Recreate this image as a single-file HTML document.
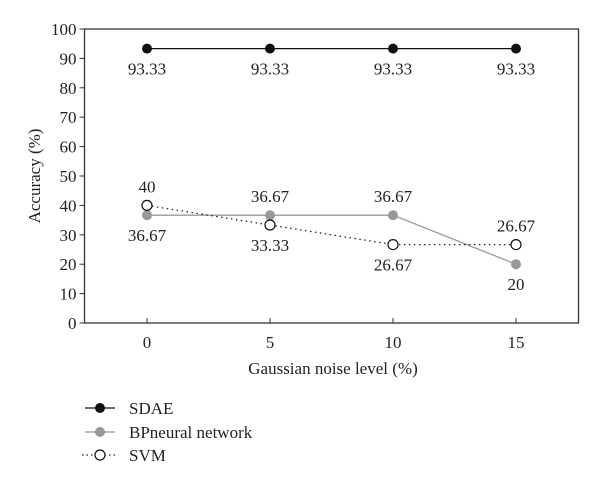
<!DOCTYPE html>
<html><head><meta charset="utf-8"><style>
body{margin:0;background:#fff}
svg text{font-family:"Liberation Serif",serif;fill:#222}
</style></head><body>
<svg id="chart" width="600" height="483" xmlns="http://www.w3.org/2000/svg">
<g id="axes"></g><g id="series"></g>
<text x="333" y="374" font-size="17" text-anchor="middle">Gaussian noise level (%)</text>
<text transform="translate(40,176) rotate(-90)" font-size="17" text-anchor="middle">Accuracy (%)</text>
<g>
<g><line x1="85" y1="408" x2="115" y2="408" stroke="#111" stroke-width="1.3"/><circle cx="100" cy="408" r="5" fill="#111"/><text x="129" y="414" font-size="17">SDAE</text></g>
<g><line x1="85" y1="432" x2="115" y2="432" stroke="#999" stroke-width="1.3"/><circle cx="100" cy="432" r="5" fill="#999"/><text x="129" y="438" font-size="17">BPneural network</text></g>
<g><line x1="82" y1="455" x2="115" y2="455" stroke="#222" stroke-width="1.2" stroke-dasharray="1.5,3"/><circle cx="100" cy="455" r="5" fill="#fff" stroke="#111" stroke-width="1.2"/><text x="129" y="461" font-size="17">SVM</text></g>
</g>
</svg>
<script>
const categories=[0,5,10,15];
const sdae=[93.33,93.33,93.33,93.33];
const bp=[36.67,36.67,36.67,20];
const svm=[40,33.33,26.67,26.67];
const yTicks=[0,10,20,30,40,50,60,70,80,90,100];
const sdaeLabelPos=["below","below","below","below"];
const bpLabelPos=["below","above","above","below"];
const svmLabelPos=["above","below","below","above"];

const L=84.5,R=578.5,T=29,B=323;
const xs=v=>147+(v-0)*(516-147)/15;
const ys=v=>B-(v/100)*(B-T);
const NS="http://www.w3.org/2000/svg";
function mk(tag,attrs,parent){const e=document.createElementNS(NS,tag);for(const k in attrs)e.setAttribute(k,attrs[k]);parent.appendChild(e);return e;}
const axes=document.getElementById('axes'),ser=document.getElementById('series');
const frame=mk('rect',{x:L,y:T,width:R-L,height:B-T,fill:'none',stroke:'#333','stroke-width':1.3},axes);


yTicks.forEach(t=>{
 const ln=mk('line',{x1:L-5,x2:L,y1:ys(t),y2:ys(t),stroke:'#333'},axes);
 
 
 const tx=mk('text',{x:L-8,y:ys(t)+6,'font-size':17,'text-anchor':'end'},axes);tx.textContent=t;
 
 
});
categories.forEach(c=>{
 const ln=mk('line',{x1:xs(c),x2:xs(c),y1:B,y2:B-5,stroke:'#333'},axes);
 
 
 const tx=mk('text',{x:xs(c),y:B+25,'font-size':17,'text-anchor':'middle'},axes);tx.textContent=c;
 
 
});
function draw(name,vals,pos,color,fill,dash){
 const pts=vals.map((v,i)=>xs(categories[i])+','+ys(v)).join(' ');
 const pl=mk('polyline',{points:pts,fill:'none',stroke:color,'stroke-width':1.3},ser);
 if(dash)pl.setAttribute('stroke-dasharray',dash);
 
 
 vals.forEach((v,i)=>{
  const c=mk('circle',{cx:xs(categories[i]),cy:ys(v),r:5,fill:fill,stroke:fill==='#fff'?'#111':'none','stroke-width':1.2},ser);
  
  
  const dy=pos[i]==='above'?-13:26;
  const t=mk('text',{x:xs(categories[i]),y:ys(v)+dy,'font-size':17,'text-anchor':'middle'},ser);
  t.textContent=v;
  
  
 });
}
draw('bp',bp,bpLabelPos,'#999','#999',null);
draw('svm',svm,svmLabelPos,'#222','#fff','1.5,3.5');
draw('sdae',sdae,sdaeLabelPos,'#111','#111',null);
</script>
</body></html>
